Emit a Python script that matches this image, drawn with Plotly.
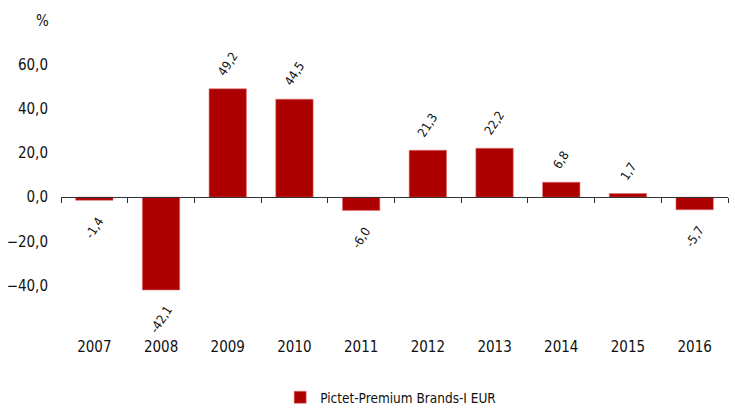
import plotly.graph_objects as go

years = ["2007", "2008", "2009", "2010", "2011", "2012", "2013", "2014", "2015", "2016"]
returns = [-1.4, -42.1, 49.2, 44.5, -6.0, 21.3, 22.2, 6.8, 1.7, -5.7]
series_name = "Pictet-Premium Brands-I EUR"
y_ticks = [-40, -20, 0, 20, 40, 60]

FONT = "DejaVu Sans Condensed"
RED = "#ad0000"

y_range = [-63, 70]
x_idx = list(range(len(years)))

def f(size):
    return dict(family=FONT, size=size, color="#111")

fig = go.Figure()
fig.add_trace(go.Bar(
    x=x_idx, y=returns, name=series_name,
    marker=dict(color=RED, line=dict(color="#e07070", width=0.6)),
    showlegend=True, hoverinfo="y",
))

zero_pos = (0 - y_range[0]) / (y_range[1] - y_range[0])

annotations = [dict(
    text="%", xref="paper", yref="paper", x=-0.028, y=1.075,
    xanchor="center", yanchor="middle", showarrow=False, font=f(15),
)]
for xi, v in zip(x_idx, returns):
    lbl = f"{v:.1f}".replace(".", ",")
    annotations.append(dict(
        x=xi, y=v, xref="x", yref="y", text=lbl, showarrow=False,
        textangle=-57, font=f(12.5),
        xanchor="center", yanchor="bottom" if v >= 0 else "top",
        yshift=8 if v >= 0 else -11,
    ))

fig.update_layout(
    width=735, height=409,
    margin=dict(l=61, r=7, t=43, b=73, autoexpand=False),
    paper_bgcolor="white", plot_bgcolor="white",
    separators=",.",
    bargap=0.44,
    font=f(15),
    xaxis=dict(
        range=[-0.5, len(years) - 0.5], automargin=False,
        tickmode="array", tickvals=x_idx, ticktext=years,
        showline=False, ticks="", showgrid=False, zeroline=False,
        tickfont=f(15),
    ),
    xaxis2=dict(
        overlaying="x", anchor="free", position=zero_pos, side="bottom",
        range=[-0.5, len(years) - 0.5], automargin=False,
        tickmode="array", tickvals=[i - 0.5 for i in range(len(years) + 1)],
        showticklabels=False, showline=True, linecolor="#333", linewidth=1.2,
        ticks="outside", ticklen=5, tickcolor="#333", tickwidth=1.2,
        showgrid=False, zeroline=False,
    ),
    yaxis=dict(
        range=y_range, tickmode="array", tickvals=y_ticks, tickformat=".1f",
        showgrid=False, zeroline=False, showline=False, ticks="",
        ticklabelstandoff=12, automargin=False,
        tickfont=f(15),
    ),
    legend=dict(
        orientation="h", x=0.495, xanchor="center", y=-0.21, yanchor="middle",
        font=f(13.5),
    ),
    annotations=annotations,
)

fig.add_trace(go.Scatter(x=[0], y=[0], xaxis="x2", mode="markers",
                         marker=dict(opacity=0), showlegend=False, hoverinfo="skip"))

fig.write_html("out.html", config={"displayModeBar": False},
               post_script="document.body.style.margin='0px';")
